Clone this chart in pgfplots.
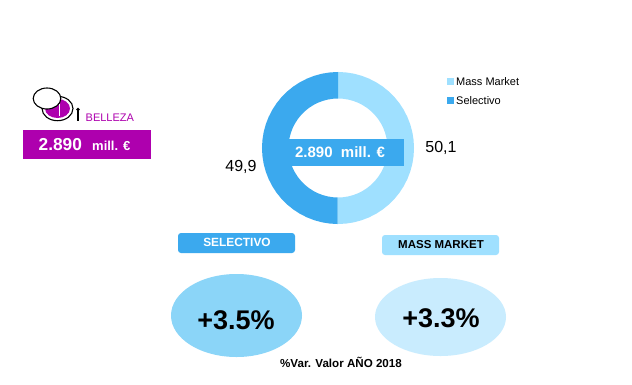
\documentclass[border=0pt]{standalone}
\usepackage{pgfplots}
\pgfplotsset{compat=1.18}
\usepgfplotslibrary{polar}
\usepackage{fontspec}
\setmainfont{Liberation Sans}
\definecolor{massc}{HTML}{9FE0FF}
\definecolor{selc}{HTML}{3BA9EE}
\definecolor{purp}{HTML}{AE00AE}
\definecolor{ellA}{HTML}{8BD5F8}
\definecolor{ellB}{HTML}{C9ECFE}
\newcommand{\fs}[1]{\fontsize{#1}{#1}\selectfont}
\begin{document}
\begin{tikzpicture}[x=1pt,y=1pt]
\fill[white] (0,0) rectangle (632,384);
\begin{polaraxis}[at={(338pt,236pt)},anchor=center,scale only axis,width=152pt,height=152pt,
  hide axis,clip=false,xmin=0,xmax=360,ymin=0,ymax=76]
% Mass Market 50.1 % : clockwise from the top
\addplot[draw=none,fill=massc,mark=none] coordinates {
(90,76)(84,76)(78,76)(72,76)(66,76)(60,76)(54,76)(48,76)(42,76)(36,76)(30,76)(24,76)(18,76)(12,76)(6,76)(0,76)
(-6,76)(-12,76)(-18,76)(-24,76)(-30,76)(-36,76)(-42,76)(-48,76)(-54,76)(-60,76)(-66,76)(-72,76)(-78,76)(-84,76)(-90,76)(-90.36,76)
(-90.36,49.5)(-90,49.5)(-84,49.5)(-78,49.5)(-72,49.5)(-66,49.5)(-60,49.5)(-54,49.5)(-48,49.5)(-42,49.5)(-36,49.5)(-30,49.5)(-24,49.5)(-18,49.5)(-12,49.5)(-6,49.5)
(0,49.5)(6,49.5)(12,49.5)(18,49.5)(24,49.5)(30,49.5)(36,49.5)(42,49.5)(48,49.5)(54,49.5)(60,49.5)(66,49.5)(72,49.5)(78,49.5)(84,49.5)(90,49.5)
};
% Selectivo 49.9 %
\addplot[draw=none,fill=selc,mark=none] coordinates {
(90,76)(96,76)(102,76)(108,76)(114,76)(120,76)(126,76)(132,76)(138,76)(144,76)(150,76)(156,76)(162,76)(168,76)(174,76)(180,76)
(186,76)(192,76)(198,76)(204,76)(210,76)(216,76)(222,76)(228,76)(234,76)(240,76)(246,76)(252,76)(258,76)(264,76)(269.64,76)
(269.64,49.5)(264,49.5)(258,49.5)(252,49.5)(246,49.5)(240,49.5)(234,49.5)(228,49.5)(222,49.5)(216,49.5)(210,49.5)(204,49.5)(198,49.5)(192,49.5)(186,49.5)
(180,49.5)(174,49.5)(168,49.5)(162,49.5)(156,49.5)(150,49.5)(144,49.5)(138,49.5)(132,49.5)(126,49.5)(120,49.5)(114,49.5)(108,49.5)(102,49.5)(96,49.5)(90,49.5)
};
\end{polaraxis}
\begin{axis}[at={(0pt,0pt)},anchor=south west,scale only axis,width=632pt,height=384pt,
  hide axis,clip=false,xmin=0,xmax=632,ymin=0,ymax=384,y dir=reverse]
% centre band
\fill[selc] (axis cs:288,139) rectangle (axis cs:404,166);
\node[white,font=\bfseries\fs{15}] at (axis cs:340,152.5) {2.890\ \ mill. €};
% data labels
\node[font=\fs{16}] at (axis cs:241,167) {49,9};
\node[font=\fs{16}] at (axis cs:441,148) {50,1};
% legend
\fill[massc] (axis cs:447,78) rectangle (axis cs:454,85);
\fill[selc] (axis cs:447,97) rectangle (axis cs:454,104);
\node[anchor=west,inner sep=0pt,font=\fs{11}] at (axis cs:456,81.5) {Mass Market};
\node[anchor=west,inner sep=0pt,font=\fs{11}] at (axis cs:456,100.5) {Selectivo};
% category boxes
\fill[selc,rounded corners=3pt] (axis cs:178,233) rectangle (axis cs:295,253);
\node[white,font=\bfseries\fs{11.9}] at (axis cs:237,242.5) {SELECTIVO};
\fill[massc,rounded corners=3pt] (axis cs:382,235) rectangle (axis cs:499,255);
\node[font=\bfseries\fs{11.5}] at (axis cs:441,244.5) {MASS MARKET};
% ellipses
\fill[ellA] (axis cs:236.5,315.5) ellipse [x radius=65.5pt,y radius=41.5pt];
\fill[ellB] (axis cs:440.5,317) ellipse [x radius=65.5pt,y radius=39pt];
\node[font=\bfseries\fs{27}] at (axis cs:236,320) {+3.5\%};
\node[font=\bfseries\fs{27}] at (axis cs:441,318) {+3.3\%};
\node[font=\bfseries\fs{11.6}] at (axis cs:341,362.5) {\%Var. Valor AÑO 2018};
% left panel
\fill[purp] (axis cs:23,130) rectangle (axis cs:151,159);
\node[white,anchor=base west,inner sep=0pt,font=\bfseries\fs{17.3}] at (axis cs:38.5,150.5) {2.890};
\node[white,anchor=base west,inner sep=0pt,font=\bfseries\fs{13}] at (axis cs:92,150.5) {mill. €};
\node[purp,anchor=base west,inner sep=0pt,font=\fs{11}] at (axis cs:85.5,121) {BELLEZA};
% icon
\draw[black,line width=1.1pt,fill=white] (axis cs:57.5,108.5) ellipse [x radius=15.5pt,y radius=12.2pt];
\fill[purp] (axis cs:57.5,108.5) ellipse [x radius=12.5pt,y radius=9.5pt];
\draw[white,line width=1pt] (axis cs:59,104) -- (axis cs:59,116);
\draw[black,line width=1.1pt,fill=white] (axis cs:47,98.5) ellipse [x radius=13.8pt,y radius=10.5pt];
\draw[black,line width=1.3pt] (axis cs:78,110) -- (axis cs:78,120.5);
\fill[black] (axis cs:78,109.5) circle (1.8pt);
\end{axis}
\end{tikzpicture}
\end{document}
